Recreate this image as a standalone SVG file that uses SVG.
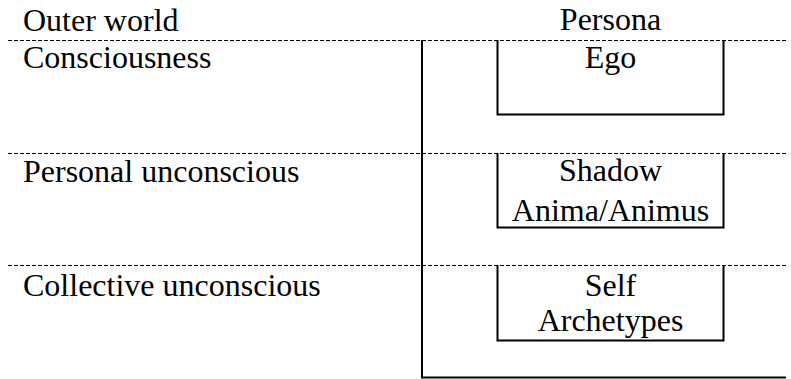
<svg xmlns="http://www.w3.org/2000/svg" width="791" height="379" viewBox="0 0 791 379">
<style>
text{font-family:'Liberation Serif','Times New Roman',serif;font-size:32px;fill:#000}
.c{text-anchor:middle}
.dash{stroke:#000;stroke-width:1;stroke-dasharray:4 2;fill:none}
.solid{stroke:#000;stroke-width:2;fill:none}
</style>
<rect width="791" height="379" fill="#fff"/>
<g id="labels">
<text x="23" y="31">Outer world</text>
<text x="23" y="68">Consciousness</text>
<text x="23" y="182">Personal unconscious</text>
<text x="23" y="296">Collective unconscious</text>
<text class="c" x="610.5" y="30">Persona</text>
</g>
<g id="connectors">
<path class="dash" d="M8 40.5H787M8 153.5H787M8 265.5H787"/>
<path class="solid" d="M422 40V377.5H786"/>
</g>
<g id="ego">
<path class="solid" d="M497.5 40V114.5H723.5V40"/>
<text class="c" x="610.5" y="68">Ego</text>
</g>
<g id="shadow">
<path class="solid" d="M497.5 153V227.5H723.5V153"/>
<text class="c" x="610.5" y="181">Shadow</text>
<text class="c" x="610.5" y="221">Anima/Animus</text>
</g>
<g id="self">
<path class="solid" d="M497.5 265V340.5H723.5V265"/>
<text class="c" x="610.5" y="296">Self</text>
<text class="c" x="610.5" y="331">Archetypes</text>
</g>
</svg>
